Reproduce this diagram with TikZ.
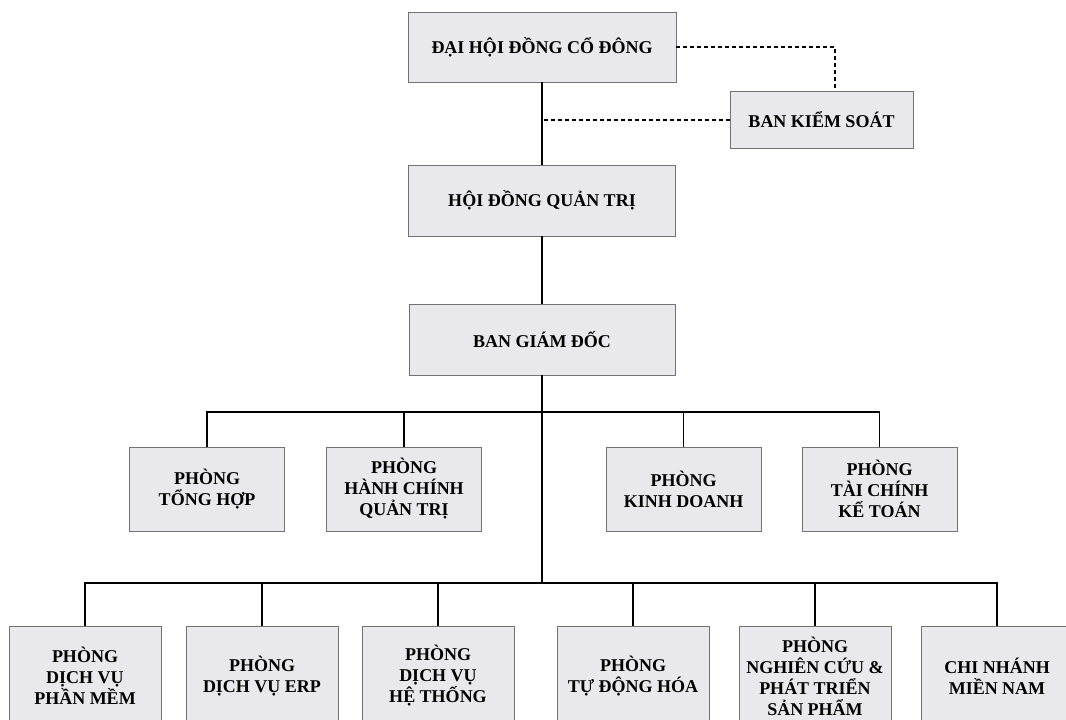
\documentclass[tikz,border=0pt]{standalone}
\usepackage{fontspec}
\setmainfont{Liberation Serif}
\definecolor{boxfill}{RGB}{233,233,237}
\definecolor{boxline}{RGB}{115,115,115}

\begin{document}
\begin{tikzpicture}[x=1pt, y=1pt,
		unit/.style={shape=rectangle, draw=boxline, fill=boxfill, line width=0.8pt, align=center, inner sep=2pt, font=\fontsize{18}{21}\selectfont\bfseries},
		dept/.style={unit, minimum width=155pt, minimum height=84pt},
		branch/.style={unit, minimum width=152pt, minimum height=100pt},
		link/.style={line width=1.3pt},
		ctrl/.style={line width=1.4pt, dash pattern=on 4pt off 3pt}]	% Boxes and wires:
			\useasboundingbox (0,0) rectangle (1066,720);
			\clip (0,0) rectangle (1066,720);
			\node[unit, minimum width=268pt, minimum height=70pt] (DHDCD) at (542,673){ĐẠI HỘI ĐỒNG CỔ ĐÔNG};
			\node[unit, minimum width=183pt, minimum height=57pt] (BKS) at (821.5,600){BAN KIỂM SOÁT};
			\node[unit, minimum width=267pt, minimum height=71pt] (HDQT) at (542,519.5){HỘI ĐỒNG QUẢN TRỊ};
			\node[unit, minimum width=266pt, minimum height=71pt] (BGD) at (542,380.5){BAN GIÁM ĐỐC};
			\node[dept] (PTH) at (207,231){PHÒNG\\TỔNG HỢP};
			\node[dept] (PHCQT) at (404,231){PHÒNG\\HÀNH CHÍNH\\QUẢN TRỊ};
			\node[dept] (PKD) at (683.5,231){PHÒNG\\KINH DOANH};
			\node[dept] (PTCKT) at (879.5,231){PHÒNG\\TÀI CHÍNH\\KẾ TOÁN};
			\node[branch] (PDVPM) at (85,44){PHÒNG\\DỊCH VỤ\\PHẦN MỀM};
			\node[branch] (PDVERP) at (262,44){PHÒNG\\DỊCH VỤ ERP};
			\node[branch] (PDVHT) at (438,44){PHÒNG\\DỊCH VỤ\\HỆ THỐNG};
			\node[branch] (PTDH) at (633,44){PHÒNG\\TỰ ĐỘNG HÓA};
			\node[branch] (PNCPT) at (815,44){PHÒNG\\NGHIÊN CỨU \&\\PHÁT TRIỂN\\SẢN PHẨM};
			\node[branch] (CNMN) at (997,44){CHI NHÁNH\\MIỀN NAM};
			\coordinate (bus1) at (542,308);
			\coordinate (bus2) at (542,137);
			\draw[link] (DHDCD.south) -- (HDQT.north);
			\draw[link] (HDQT.south) -- (BGD.north);
			\draw[link] (BGD.south) -- (bus2);
			\draw[ctrl] (DHDCD.east) -| ([xshift=13.5pt]BKS.north);
			\draw[ctrl] (BKS.west) -- (BKS.west -| DHDCD.south);
			\draw[link] (PTH.north) -- (PTH.north |- bus1) -- (PTCKT.north |- bus1) -- (PTCKT.north);
			\draw[link] (PHCQT.north) -- (PHCQT.north |- bus1);
			\draw[link] (PKD.north) -- (PKD.north |- bus1);
			\draw[link] (PDVPM.north) -- (PDVPM.north |- bus2) -- (CNMN.north |- bus2) -- (CNMN.north);
			\draw[link] (PDVERP.north) -- (PDVERP.north |- bus2);
			\draw[link] (PDVHT.north) -- (PDVHT.north |- bus2);
			\draw[link] (PTDH.north) -- (PTDH.north |- bus2);
			\draw[link] (PNCPT.north) -- (PNCPT.north |- bus2);
		\end{tikzpicture}
\end{document}
